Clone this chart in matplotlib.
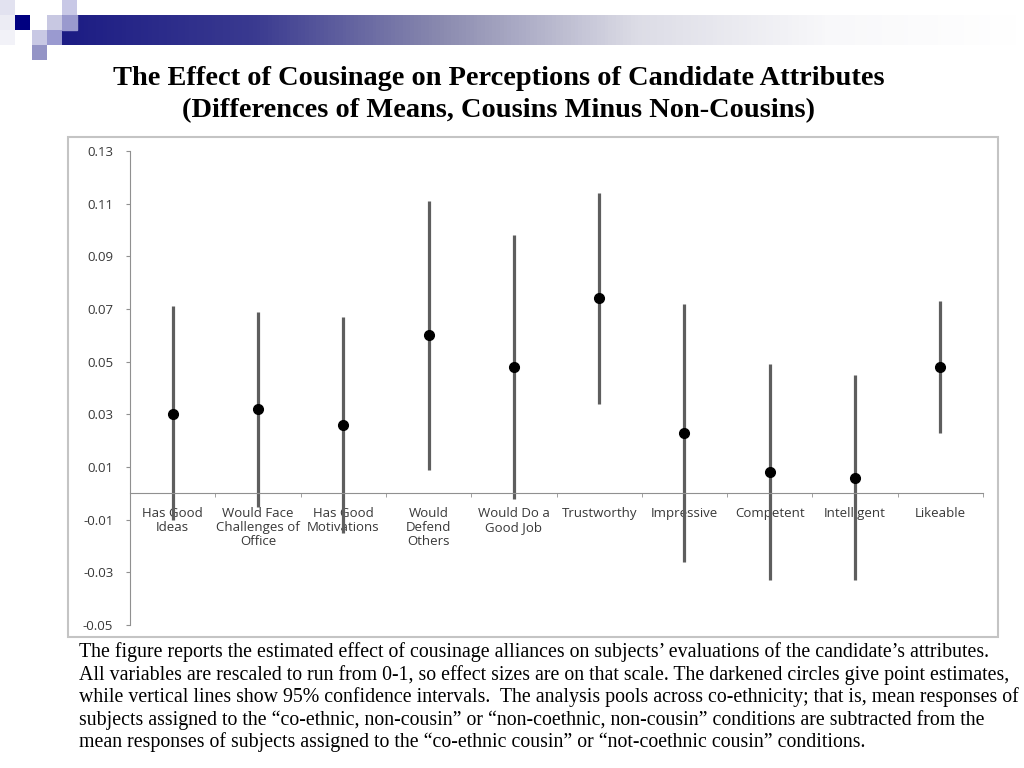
import numpy as np
import matplotlib
matplotlib.use("Agg")
from matplotlib import pyplot as plt
from matplotlib.patches import Rectangle
from matplotlib.colors import LinearSegmentedColormap

# data
categories = ["Has Good\nIdeas", "Would Face\nChallenges of\nOffice", "Has Good\nMotivations",
              "Would\nDefend\nOthers", "Would Do a\nGood Job", "Trustworthy", "Impressive",
              "Competent", "Intelligent", "Likeable"]
estimate = [0.030, 0.032, 0.026, 0.060, 0.048, 0.074, 0.023, 0.008, 0.006, 0.048]
ci_low   = [-0.010, -0.005, -0.015, 0.009, -0.002, 0.034, -0.026, -0.033, -0.033, 0.023]
ci_high  = [0.071, 0.069, 0.067, 0.111, 0.098, 0.114, 0.072, 0.049, 0.045, 0.073]
yticks = [-0.05, -0.03, -0.01, 0.01, 0.03, 0.05, 0.07, 0.09, 0.11, 0.13]

title1 = "The Effect of Cousinage on Perceptions of Candidate Attributes"
title2 = "(Differences of Means, Cousins Minus Non-Cousins)"
caption = ["The figure reports the estimated effect of cousinage alliances on subjects\u2019 evaluations of the candidate\u2019s attributes.",
           "All variables are rescaled to run from 0-1, so effect sizes are on that scale. The darkened circles give point estimates,",
           "while vertical lines show 95% confidence intervals.  The analysis pools across co-ethnicity; that is, mean responses of",
           "subjects assigned to the \u201cco-ethnic, non-cousin\u201d or \u201cnon-coethnic, non-cousin\u201d conditions are subtracted from the",
           "mean responses of subjects assigned to the \u201cco-ethnic cousin\u201d or \u201cnot-coethnic cousin\u201d conditions."]

W, H = 1024, 768
fig = plt.figure(figsize=(W / 100, H / 100), dpi=100)

# slide background decoration in pixel coordinates
bg = fig.add_axes([0, 0, 1, 1], zorder=0)
bg.set_xlim(0, W)
bg.set_ylim(H, 0)
bg.axis("off")
fade = LinearSegmentedColormap.from_list("fade", ["#1c1c84", "#3a3a90", "#8c8cb0", "#dcdce6", "#f8f8fa", "#ffffff"])
bg.imshow(np.linspace(0, 1, 256)[None, :], cmap=fade, aspect="auto", extent=[62, 1020, 45, 15])
bg.add_patch(Rectangle((62, 15), 15, 15, color="#9a9ace"))
squares = [((0, 0), "#e2e2f0"), ((0, 15), "#ececf4"), ((0, 30), "#f2f2f8"),
           ((15, 15), "#000080"), ((32, 30), "#c8c8e4"), ((32, 45), "#9494c6"),
           ((47, 15), "#c8c8e2"), ((47, 30), "#9a9ad0"), ((62, 0), "#c8c8e6")]
for (sx, sy), c in squares:
    bg.add_patch(Rectangle((sx, sy), 15, 15, color=c, lw=0))
bg.add_patch(Rectangle((68, 137), 930, 500, fill=False, ec="#c4c4c4", lw=1.5))

fig.text(499 / W, 1 - 85 / H, title1, ha="center", va="baseline", fontsize=20.4,
         fontweight="bold", family="Liberation Serif")
fig.text(499 / W, 1 - 117 / H, title2, ha="center", va="baseline", fontsize=20.4,
         fontweight="bold", family="Liberation Serif")
for i, line in enumerate(caption):
    fig.text(79 / W, 1 - (657 + 22.6 * i) / H, line, ha="left", va="baseline",
             fontsize=14.3, family="Liberation Serif")

# chart
ax = fig.add_axes([130 / W, 1 - 625 / H, (983 - 130) / W, (625 - 151) / H], zorder=1)
ax.patch.set_alpha(0)
x = np.arange(len(categories))
ax.vlines(x, ci_low, ci_high, color="#5e5e5e", lw=2.3, zorder=2)
ax.plot(x, estimate, "o", color="black", ms=7, zorder=3)

ax.set_xlim(-0.5, len(categories) - 0.5)
ax.set_ylim(-0.05, 0.13)
ax.set_yticks(yticks)
ax.set_yticklabels(["%.2f" % v for v in yticks])
for s in ["top", "right"]:
    ax.spines[s].set_visible(False)
ax.spines["bottom"].set_position(("data", 0))
ax.spines["bottom"].set_color("#909090")
ax.spines["left"].set_color("#909090")
ax.set_xticks(x)
ax.set_xticklabels(categories, linespacing=1.1)
ax.set_xticks(np.arange(-0.5, len(categories)), minor=True)
ax.tick_params(axis="x", which="major", length=0, pad=10, labelsize=9.5, labelcolor="#383838")
ax.tick_params(axis="x", which="minor", length=3, color="#909090", direction="out")
ax.tick_params(axis="y", length=3, color="#909090", labelsize=9.5, labelcolor="#383838", pad=9)
for lab in ax.get_xticklabels() + ax.get_yticklabels():
    lab.set_family("Open Sans")

fig.savefig("out.png", dpi=100)
